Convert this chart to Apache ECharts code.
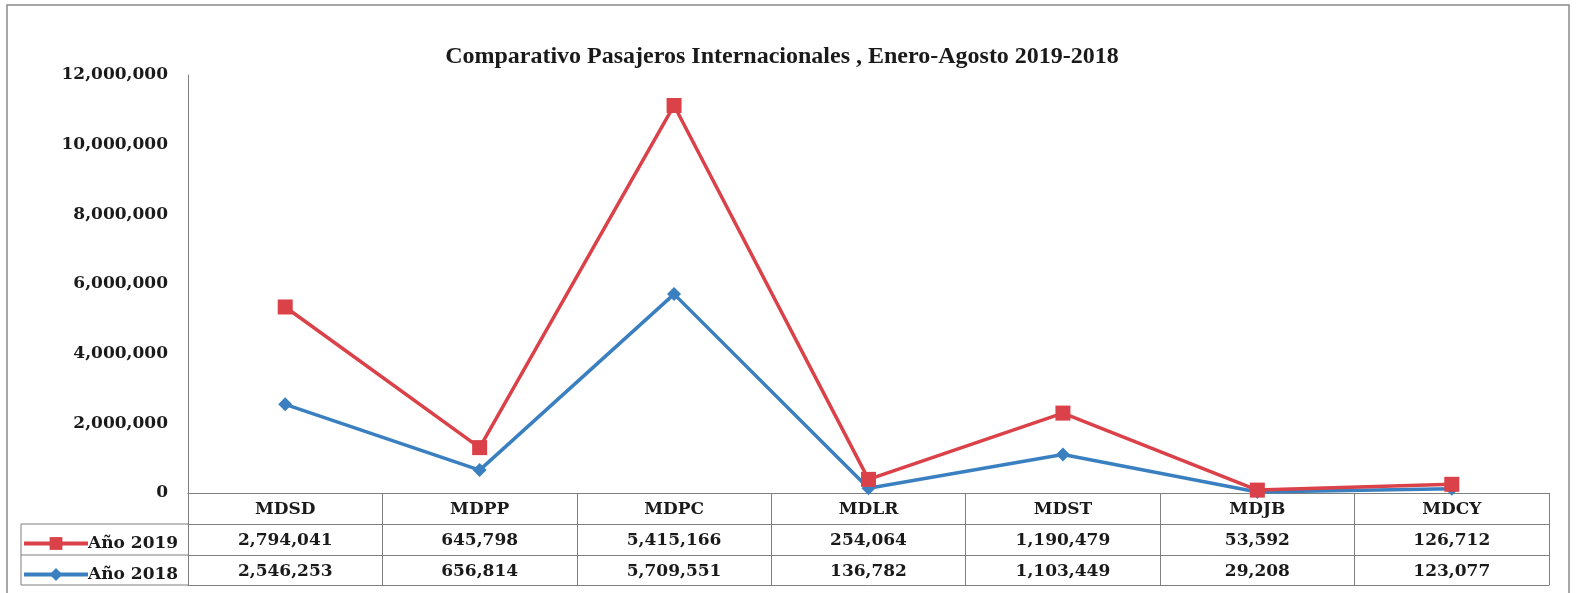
<!DOCTYPE html>
<html>
<head>
<meta charset="utf-8">
<script src="https://cdn.jsdelivr.net/npm/echarts@6/dist/echarts.min.js"></script>
<style>
html,body{margin:0;padding:0;background:#fff;}
#c{width:1577px;height:593px;}
</style>
</head>
<body>
<div id="c"></div>
<script>
const categories = ['MDSD','MDPP','MDPC','MDLR','MDST','MDJB','MDCY'];
const seriesNames = ['Año 2019','Año 2018'];
const values2019 = [2794041, 645798, 5415166, 254064, 1190479, 53592, 126712];
const values2018 = [2546253, 656814, 5709551, 136782, 1103449, 29208, 123077];
const yTicks = {min: 0, max: 12000000, interval: 2000000};
const titleText = 'Comparativo Pasajeros Internacionales , Enero-Agosto 2019-2018';

const RED = '#DA4148', BLUE = '#3A80C1', LINE = '#7f7f7f';
const SERIF = '"DejaVu Serif", serif';
const fmt = v => Number(v).toLocaleString('en-US');

const chart = echarts.init(document.getElementById('c'), null, {renderer: 'canvas'});

const tableAxis = (offset, vals) => ({
  type: 'category', data: categories, position: 'bottom', offset: offset,
  axisLine: {show: true, lineStyle: {color: LINE, width: 1}},
  axisTick: {show: false},
  axisLabel: vals ? {
    show: true, interval: 0, margin: 8,
    fontFamily: SERIF, fontWeight: 'bold', fontSize: 17, color: '#1a1a1a',
    formatter: (v, i) => fmt(vals[i])
  } : {show: false},
  splitLine: {show: false}
});

chart.setOption({
  animation: false,
  backgroundColor: '#fff',
  title: {
    text: titleText, left: 777, top: 40, textAlign: 'center',
    textStyle: {fontFamily: '"Liberation Serif", serif', fontWeight: 'bold', fontSize: 24, color: '#1a1a1a'}
  },
  legend: {
    orient: 'vertical', left: 17, top: 530, itemGap: 14,
    itemWidth: 64, itemHeight: 16,
    data: seriesNames,
    lineStyle: {width: 4},
    textStyle: {fontFamily: SERIF, fontWeight: 'bold', fontSize: 17, color: '#1a1a1a', padding: [0,0,0,-5]}
  },
  grid: {left: 188, right: 28, top: 75, bottom: 100, containLabel: false},
  xAxis: [
    {
      type: 'category', data: categories, position: 'bottom', boundaryGap: true,
      axisLine: {show: true, lineStyle: {color: LINE, width: 1}},
      axisTick: {show: true, inside: false, length: 92, interval: 0, lineStyle: {color: LINE, width: 1}},
      axisLabel: {interval: 0, margin: 8, fontFamily: SERIF, fontWeight: 'bold', fontSize: 17, color: '#1a1a1a'},
      splitLine: {show: false}
    },
    tableAxis(31, values2019),
    tableAxis(62, values2018),
    tableAxis(92, null)
  ],
  yAxis: {
    type: 'value', min: yTicks.min, max: yTicks.max, interval: yTicks.interval,
    axisLine: {show: true, lineStyle: {color: LINE, width: 1}},
    axisTick: {show: false},
    splitLine: {show: false},
    axisLabel: {margin: 20, fontFamily: SERIF, fontWeight: 'bold', fontSize: 17, color: '#1a1a1a', formatter: v => fmt(v)}
  },
  series: [
    {
      name: seriesNames[1], type: 'line', stack: 'total', data: values2018,
      symbol: 'diamond', symbolSize: 14,
      lineStyle: {color: BLUE, width: 3.5}, itemStyle: {color: BLUE}, color: BLUE, z: 2
    },
    {
      name: seriesNames[0], type: 'line', stack: 'total', data: values2019,
      symbol: 'rect', symbolSize: 15,
      lineStyle: {color: RED, width: 3.5}, itemStyle: {color: RED}, color: RED, z: 3
    }
  ],
  graphic: [
    {type: 'rect', shape: {x: 7, y: 5, width: 1562, height: 600}, style: {fill: 'none', stroke: '#8a8a8a', lineWidth: 1.5}, silent: true},
    {type: 'line', shape: {x1: 21, y1: 524, x2: 188, y2: 524}, style: {stroke: LINE, lineWidth: 1}},
    {type: 'line', shape: {x1: 21, y1: 555, x2: 188, y2: 555}, style: {stroke: LINE, lineWidth: 1}},
    {type: 'line', shape: {x1: 21, y1: 585, x2: 188, y2: 585}, style: {stroke: LINE, lineWidth: 1}},
    {type: 'line', shape: {x1: 21, y1: 524, x2: 21, y2: 585}, style: {stroke: LINE, lineWidth: 1}}
  ]
});
</script>
</body>
</html>
